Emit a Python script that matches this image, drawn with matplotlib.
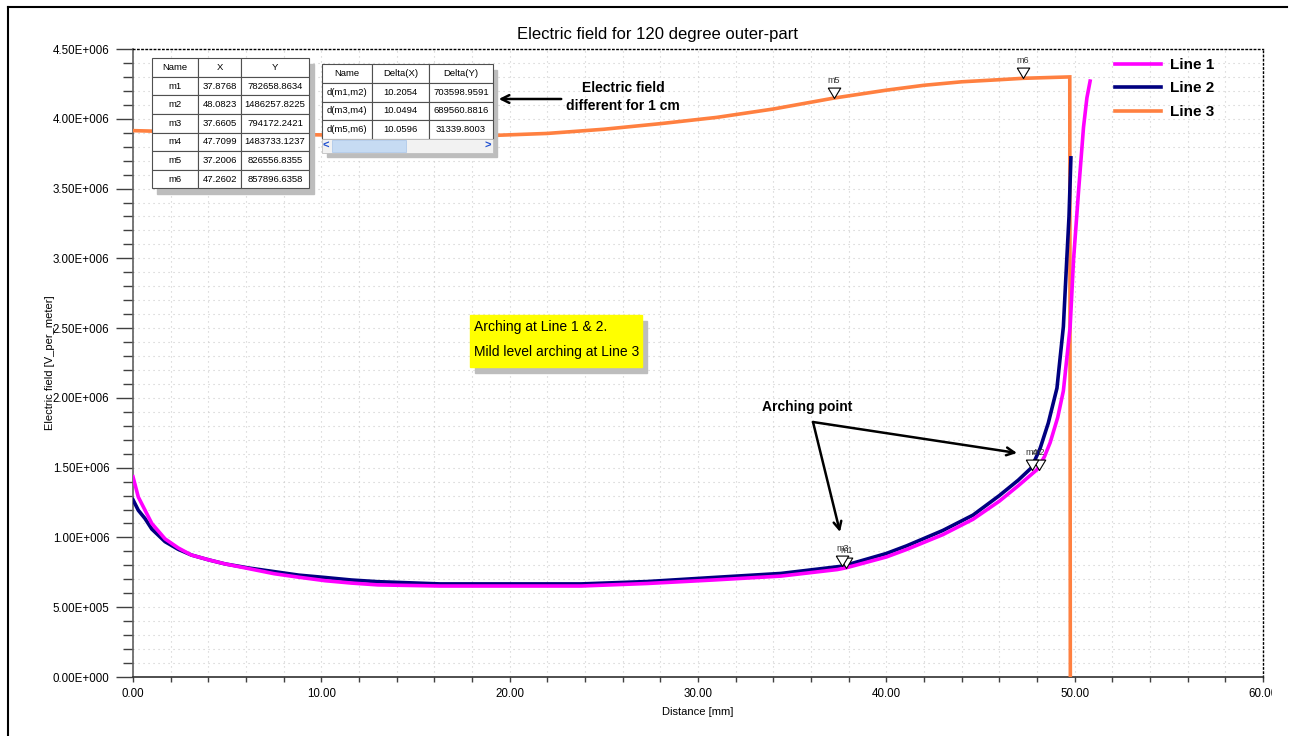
import matplotlib
matplotlib.use("Agg")
import matplotlib.pyplot as plt
import numpy as np
from matplotlib.markers import MarkerStyle
from matplotlib.patches import Rectangle
from matplotlib.lines import Line2D
from matplotlib.ticker import MultipleLocator, FuncFormatter

plt.rcParams["font.family"] = ["Liberation Sans", "DejaVu Sans"]

# ---- data ----
line1_x = [0, 0.28, 0.64, 1.0, 1.7, 2.4, 3.1, 4.0, 4.9, 6.2, 7.5, 8.8, 10.2, 11.6, 13.0, 16.3,
           20.0, 23.8, 27.3, 30.8, 34.4, 37.4, 37.88, 40.0, 41.1, 43.0, 44.6, 46.0, 47.0, 48.0,
           48.4, 48.7, 49.1, 49.4, 49.76, 49.94, 50.2, 50.47, 50.65, 50.82]
line1_y = [1.435, 1.29, 1.195, 1.10, 0.99, 0.925, 0.874, 0.84, 0.81, 0.775, 0.74, 0.715, 0.69,
           0.673, 0.66, 0.652, 0.652, 0.652, 0.67, 0.695, 0.723, 0.77, 0.783, 0.86, 0.915, 1.02,
           1.13, 1.26, 1.37, 1.486, 1.58, 1.68, 1.86, 2.05, 2.51, 2.99, 3.47, 3.94, 4.15, 4.27]

line2_x = [0, 0.28, 0.64, 1.0, 1.7, 2.4, 3.1, 4.0, 4.9, 6.2, 7.5, 8.8, 10.2, 11.6, 13.0, 16.3,
           20.0, 23.8, 27.3, 30.8, 34.4, 37.4, 37.66, 40.0, 41.08, 43.0, 44.6, 46.0, 47.0, 47.71,
           48.17, 48.6, 49.06, 49.4, 49.58, 49.7, 49.8]
line2_y = [1.27, 1.195, 1.135, 1.06, 0.97, 0.915, 0.874, 0.84, 0.81, 0.78, 0.755, 0.73, 0.713,
           0.695, 0.683, 0.667, 0.667, 0.667, 0.684, 0.713, 0.742, 0.79, 0.794, 0.885, 0.94, 1.05,
           1.16, 1.30, 1.41, 1.50, 1.64, 1.82, 2.07, 2.51, 2.99, 3.3, 3.72]

line3_x = [0, 3, 6, 9.7, 13, 16, 19, 22, 25, 28, 31, 34, 37.2, 40, 42, 44, 46, 47.26, 48.5,
           49.74, 49.77]
line3_y = [3.915, 3.905, 3.895, 3.885, 3.88, 3.878, 3.88, 3.895, 3.925, 3.965, 4.01, 4.07,
           4.148, 4.205, 4.24, 4.265, 4.28, 4.29, 4.295, 4.30, 0.0]

marker_names = ["m1", "m2", "m3", "m4", "m5", "m6"]
marker_x = [37.8768, 48.0823, 37.6605, 47.7099, 37.2006, 47.2602]
marker_y = [0.7827, 1.4863, 0.7942, 1.4837, 4.148, 4.29]

table1_header = ["Name", "X", "Y"]
table1_rows = [
    ["m1", "37.8768", "782658.8634"],
    ["m2", "48.0823", "1486257.8225"],
    ["m3", "37.6605", "794172.2421"],
    ["m4", "47.7099", "1483733.1237"],
    ["m5", "37.2006", "826556.8355"],
    ["m6", "47.2602", "857896.6358"],
]
table2_header = ["Name", "Delta(X)", "Delta(Y)"]
table2_rows = [
    ["d(m1,m2)", "10.2054", "703598.9591"],
    ["d(m3,m4)", "10.0494", "689560.8816"],
    ["d(m5,m6)", "10.0596", "31339.8003"],
]

W, H = 1290, 736


def fig_xy(px, py):
    return px / W, 1 - py / H


AX_L, AX_R, AX_T, AX_B = 133, 1263, 49, 677


def ax_xy(px, py):
    return (px - AX_L) / (AX_R - AX_L), (AX_B - py) / (AX_B - AX_T)


fig = plt.figure(figsize=(12.9, 7.36), dpi=100)
ax = fig.add_axes([AX_L / W, 1 - AX_B / H, (AX_R - AX_L) / W, (AX_B - AX_T) / H])

scale = 1e6
ax.plot(line3_x, np.array(line3_y) * scale, color="#FF8040", lw=2.6, zorder=3, label="Line 3",
        solid_joinstyle="miter")
ax.plot(line2_x, np.array(line2_y) * scale, color="#000080", lw=2.6, zorder=4, label="Line 2")
ax.plot(line1_x, np.array(line1_y) * scale, color="#FF00FF", lw=2.6, zorder=5, label="Line 1")

# marker triangles with the tip on the curve
tri = MarkerStyle([(-0.6, 1.0), (0.6, 1.0), (0, 0), (-0.6, 1.0)])
for name, mx, my in zip(marker_names, marker_x, marker_y):
    ax.plot([mx], [my * scale], marker=tri, ms=15, mfc="white", mec="black", mew=0.8,
            ls="none", zorder=7)
    ax.annotate(name, (mx, my * scale), xytext=(0, 12.5), textcoords="offset points",
                ha="center", va="center", fontsize=6.5, color="#333333", zorder=7)

ax.set_xlim(0, 60)
ax.set_ylim(0, 4.5e6)
ax.xaxis.set_major_locator(MultipleLocator(10))
ax.xaxis.set_minor_locator(MultipleLocator(2))
ax.yaxis.set_major_locator(MultipleLocator(5e5))
ax.yaxis.set_minor_locator(MultipleLocator(1e5))
ax.xaxis.set_major_formatter(FuncFormatter(lambda v, p: f"{v:.2f}"))


def sci_fmt(v, pos):
    if v == 0:
        return "0.00E+000"
    exp = int(np.floor(np.log10(abs(v)) + 1e-9))
    return f"{v / 10 ** exp:.2f}E+{exp:03d}"


ax.yaxis.set_major_formatter(FuncFormatter(sci_fmt))
ax.tick_params(axis="y", which="major", length=12, width=1, color="#404040", labelsize=8.3, pad=5)
ax.tick_params(axis="y", which="minor", length=7, width=1, color="#404040")
ax.tick_params(axis="x", which="both", length=3.6, width=1, color="#404040", labelsize=8.3, pad=4.5)

ax.grid(which="both", color="#cccccc", linestyle=(0, (1, 3.5)), linewidth=0.8)
ax.set_axisbelow(True)
ax.spines["left"].set_color("#606060")
ax.spines["left"].set_linewidth(1.2)
ax.spines["bottom"].set_color("#303030")
ax.spines["bottom"].set_linewidth(1.2)
for s in ["top", "right"]:
    ax.spines[s].set_linestyle((0, (1, 2)))
    ax.spines[s].set_color("black")
    ax.spines[s].set_linewidth(1)

ax.set_xlabel("Distance [mm]", fontsize=8, labelpad=5)
ax.set_ylabel("Electric field [V_per_meter]", fontsize=8)
ax.yaxis.set_label_coords(-0.069, 0.5)
fig.text(*fig_xy(658, 34), "Electric field for 120 degree outer-part", fontsize=12,
         ha="center", va="center")

# legend
handles, labels = ax.get_legend_handles_labels()
order = [2, 1, 0]
fig.legend([handles[i] for i in order], [labels[i] for i in order], loc="upper left",
           bbox_to_anchor=fig_xy(1115, 58), frameon=False, borderpad=0, borderaxespad=0,
           handlelength=3.0, handletextpad=0.6, labelspacing=0.62,
           prop={"weight": "bold", "size": 11})


# tables with drop shadows
def draw_table(rows, header, left, right, top, bottom, colw):
    x0, y1 = ax_xy(left, top)
    x1, y0 = ax_xy(right, bottom)
    tbl = ax.table(cellText=rows, colLabels=header, cellLoc="center", colWidths=colw,
                   bbox=[x0, y0, x1 - x0, y1 - y0], zorder=9)
    tbl.auto_set_font_size(False)
    tbl.set_fontsize(6.8)
    for cell in tbl.get_celld().values():
        cell.set_edgecolor("#505050")
        cell.set_linewidth(0.8)
        cell.set_facecolor("white")
    return tbl


sx0, sy1 = ax_xy(157, 64)
sx1, sy0 = ax_xy(314, 194)
ax.add_patch(Rectangle((sx0, sy0), sx1 - sx0, sy1 - sy0, transform=ax.transAxes,
                       color="#bdbdbd", zorder=8))
draw_table(table1_rows, table1_header, 151.7, 309.3, 58.3, 188.3, [46.6, 42.7, 68.3])

sx0, sy1 = ax_xy(327, 70)
sx1, sy0 = ax_xy(497, 157)
ax.add_patch(Rectangle((sx0, sy0), sx1 - sx0, sy1 - sy0, transform=ax.transAxes,
                       color="#bdbdbd", zorder=8))
draw_table(table2_rows, table2_header, 321.7, 492.7, 64, 139, [50, 57.6, 63.4])
# scrollbar under the delta table
bx0, by1 = ax_xy(321.7, 139)
bx1, by0 = ax_xy(492.7, 153)
ax.add_patch(Rectangle((bx0, by0), bx1 - bx0, by1 - by0, transform=ax.transAxes,
                       facecolor="#f2f2f2", edgecolor="#c0c0c0", lw=0.6, zorder=9))
tx0, _ = ax_xy(331.7, 0)
tx1, _ = ax_xy(406, 0)
ax.add_patch(Rectangle((tx0, by0 + 0.002), tx1 - tx0, by1 - by0 - 0.004, transform=ax.transAxes,
                       facecolor="#c6dbf3", edgecolor="#a8c4e8", lw=0.5, zorder=10))
ax.text(*ax_xy(326, 146), "<", transform=ax.transAxes, ha="center", va="center",
        fontsize=8, fontweight="bold", color="#1f4fd0", zorder=11)
ax.text(*ax_xy(488, 146), ">", transform=ax.transAxes, ha="center", va="center",
        fontsize=8, fontweight="bold", color="#1f4fd0", zorder=11)

# yellow note
yx0, yy1 = ax_xy(475, 321)
yx1, yy0 = ax_xy(647, 373)
ax.add_patch(Rectangle((yx0, yy0), yx1 - yx0, yy1 - yy0, transform=ax.transAxes,
                       color="#bdbdbd", zorder=8))
yx0, yy1 = ax_xy(470, 315)
yx1, yy0 = ax_xy(642, 367)
ax.add_patch(Rectangle((yx0, yy0), yx1 - yx0, yy1 - yy0, transform=ax.transAxes,
                       color="#ffff00", zorder=9))
note_font = ["Liberation Sans Narrow", "Liberation Sans", "DejaVu Sans"]
ax.text(*ax_xy(474, 327), "Arching at Line 1 & 2.", transform=ax.transAxes, ha="left",
        va="center", fontsize=10, family=note_font, zorder=10)
ax.text(*ax_xy(474, 352), "Mild level arching at Line 3", transform=ax.transAxes, ha="left",
        va="center", fontsize=10, family=note_font, zorder=10)

# annotations
ax.annotate("", xy=fig_xy(496, 99), xycoords="figure fraction", xytext=fig_xy(564, 99),
            textcoords="figure fraction",
            arrowprops=dict(arrowstyle="->", lw=1.8, color="black", mutation_scale=14))
fig.text(*fig_xy(623, 97), "Electric field\ndifferent for 1 cm", ha="center", va="center",
         fontsize=10, fontweight="bold", linespacing=1.4)

fig.text(*fig_xy(807, 407), "Arching point", ha="center", va="center", fontsize=10,
         fontweight="bold")
for end in [(1017, 453), (840, 532)]:
    ax.annotate("", xy=fig_xy(*end), xycoords="figure fraction", xytext=fig_xy(813, 422),
                textcoords="figure fraction",
                arrowprops=dict(arrowstyle="->", lw=1.8, color="black", mutation_scale=14,
                                shrinkA=0, shrinkB=0))

# outer frame of the screenshot
fig.add_artist(Line2D([8 / W, 8 / W], [0, 1 - 7 / H], transform=fig.transFigure,
                      color="black", lw=1.5))
fig.add_artist(Line2D([8 / W, 1287 / W], [1 - 7 / H, 1 - 7 / H], transform=fig.transFigure,
                      color="black", lw=1.5))
# clipped right edge of the original capture
fig.add_artist(Rectangle((1272 / W, 0), 18 / W, 0.07, transform=fig.transFigure,
                         color="white", zorder=20))

fig.savefig("out.png", dpi=100)
